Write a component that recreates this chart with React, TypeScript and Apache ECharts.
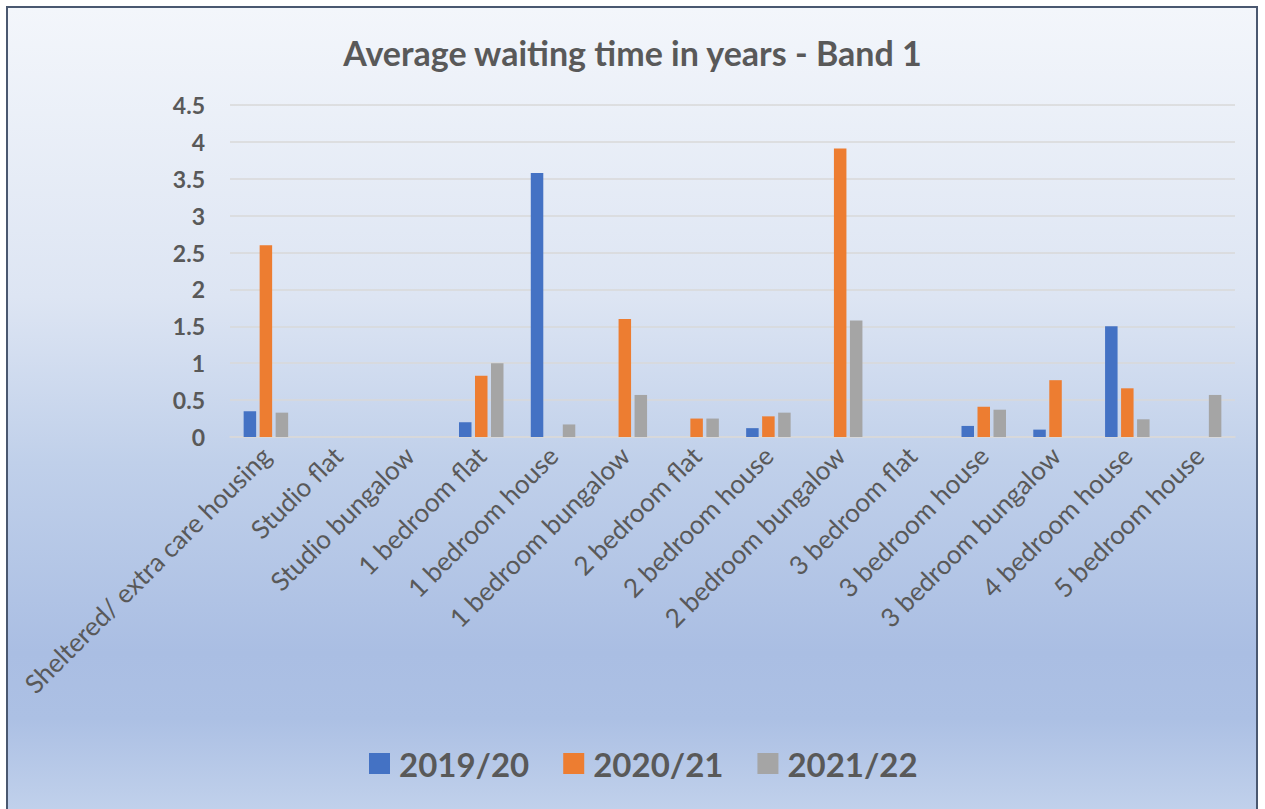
import React, { useEffect, useRef } from "react";
import * as echarts from "echarts";

const categories = [
  "Sheltered/ extra care housing",
  "Studio flat",
  "Studio bungalow",
  "1 bedroom flat",
  "1 bedroom house",
  "1 bedroom bungalow",
  "2 bedroom flat",
  "2 bedroom house",
  "2 bedroom bungalow",
  "3 bedroom flat",
  "3 bedroom house",
  "3 bedroom bungalow",
  "4 bedroom house",
  "5 bedroom house",
];

const seriesNames = ["2019/20", "2020/21", "2021/22"];
const values2019 = [0.35, null, null, 0.2, 3.58, null, null, 0.12, null, null, 0.15, 0.1, 1.5, null];
const values2020 = [2.6, null, null, 0.83, null, 1.6, 0.25, 0.28, 3.91, null, 0.41, 0.77, 0.66, null];
const values2021 = [0.33, null, null, 1.0, 0.17, 0.57, 0.25, 0.33, 1.58, null, 0.37, null, 0.24, 0.57];
const colors = ["#4472c4", "#ed7d31", "#a5a5a5"];

const FONT = "Lato, 'Open Sans', sans-serif";

export default function App() {
  const ref = useRef<HTMLDivElement>(null);
  useEffect(() => {
    if (!ref.current) return;
    const chart = echarts.init(ref.current, undefined, { renderer: "svg" });
    const data = [values2019, values2020, values2021];
    chart.setOption({
      animation: false,
      backgroundColor: "transparent",
      title: {
        text: "Average waiting time in years - Band 1",
        left: "center",
        top: 30,
        textStyle: { fontFamily: FONT, fontSize: 34, fontWeight: "bold", color: "#595959" },
      },
      legend: {
        data: seriesNames,
        bottom: 24,
        left: 364,
        itemWidth: 21,
        itemHeight: 21,
        itemGap: 34,
        icon: "rect",
        textStyle: { fontFamily: FONT, fontSize: 33, fontWeight: "bold", color: "#595959", padding: [0, 0, 0, 4] },
      },
      grid: { left: 230, right: 30, top: 105, bottom: 372, containLabel: false },
      xAxis: {
        type: "category",
        data: categories,
        axisTick: { show: false },
        axisLine: { lineStyle: { color: "#d9d9d9", width: 1.5 } },
        axisLabel: {
          interval: 0,
          rotate: 45,
          margin: 14,
          fontFamily: FONT,
          fontSize: 26,
          color: "#595959",
        },
      },
      yAxis: {
        type: "value",
        min: 0,
        max: 4.5,
        interval: 0.5,
        axisLine: { show: false },
        axisTick: { show: false },
        splitLine: { lineStyle: { color: "#d9d9d9", width: 1.5 } },
        axisLabel: {
          margin: 25,
          fontFamily: FONT,
          fontSize: 23,
          fontWeight: "bold",
          color: "#595959",
        },
      },
      series: seriesNames.map((name, i) => ({
        name,
        type: "bar",
        data: data[i],
        barWidth: 12.5,
        barGap: "28%",
        itemStyle: { color: colors[i] },
      })),
    });
    return () => chart.dispose();
  }, []);

  return (
    <div style={{ position: "absolute", left: 0, top: 0, width: 1265, height: 809, overflow: "hidden", background: "#fff" }}>
      <div
        style={{
          position: "absolute",
          left: 6,
          top: 6,
          width: 1252,
          height: 830,
          boxSizing: "border-box",
          border: "2px solid #4a5870",
          background:
            "linear-gradient(to bottom, #f3f6fb 0%, #dde5f3 35%, #c0d0ea 55%, #aabee3 78%, #acc0e4 86%, #c6d5ed 100%)",
        }}
      />
      <div ref={ref} style={{ position: "absolute", left: 0, top: 0, width: 1265, height: 809 }} />
    </div>
  );
}
